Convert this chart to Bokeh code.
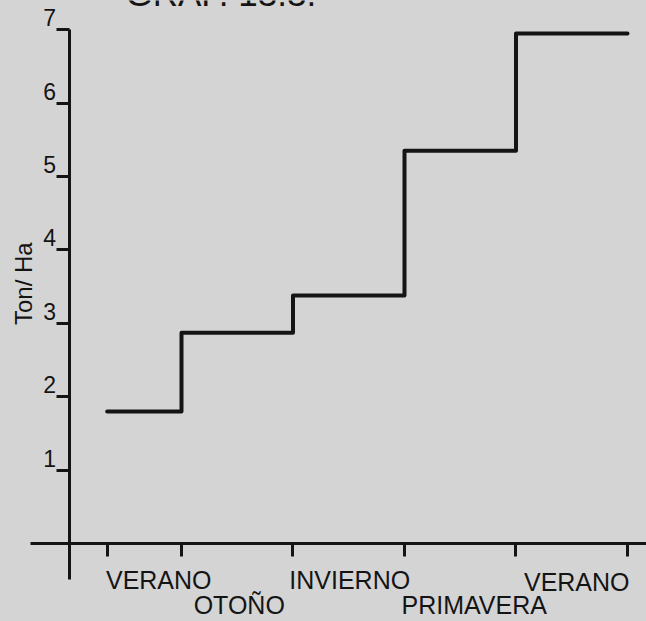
from bokeh.plotting import figure
from bokeh.models import Label, FixedTicker, GlobalInlineStyleSheet, ColumnDataSource
from bokeh.core.properties import value
from bokeh.embed import file_html
from bokeh.resources import INLINE

# ---- data ----
title_text = "GRAF. 13.3."
y_label = "Ton/ Ha"
seasons = ["VERANO", "OTOÑO", "INVIERNO", "PRIMAVERA", "VERANO"]
step_edges = [1 / 3, 1, 2, 3, 4, 5]          # season boundaries on x
yields = [1.80, 2.87, 3.38, 5.35, 6.95]      # Ton/Ha held during each period
y_ticks = [1, 2, 3, 4, 5, 6, 7]
x_ticks = [1 / 3, 1, 2, 3, 4, 5]

# ---- style / layout ----
W, H = 646, 621
BG = "#d4d4d4"
INK = "#141414"
FONT = "Liberation Sans"

p = figure(width=W, height=H, output_backend="svg", toolbar_location=None,
           x_range=(-0.6233, 5.1704), y_range=(-1.0627, 7.398),
           min_border=0, min_border_left=0, min_border_right=0,
           min_border_top=0, min_border_bottom=0)
p.stylesheets = [GlobalInlineStyleSheet(
    css=f"html, body {{ margin: 0; padding: 0; background: {BG}; overflow: hidden; }}")]
p.background_fill_color = BG
p.border_fill_color = BG
p.outline_line_color = None
p.grid.visible = False

# axes crossing at the origin
xa = p.xaxis[0]
ya = p.yaxis[0]
for ax in (xa, ya):
    ax.fixed_location = 0
    ax.axis_line_width = 3
    ax.axis_line_color = INK
    ax.major_tick_line_width = 3
    ax.major_tick_line_color = INK
    ax.major_tick_in = 0
    ax.minor_tick_in = 0
    ax.minor_tick_out = 0
    ax.major_label_text_font_size = "0px"
    ax.major_label_text_color = None
xa.ticker = FixedTicker(ticks=x_ticks)
xa.major_tick_out = 13
xa.bounds = (-0.35, 5.1704)
ya.ticker = FixedTicker(ticks=y_ticks)
ya.major_tick_out = 13
ya.bounds = (-0.485, 7)

# step line
p.step(x=step_edges, y=yields + [yields[-1]], mode="after",
       line_width=4, line_color=INK, line_join="round", line_cap="round")

# y tick labels
ysrc = ColumnDataSource(dict(x=[0] * len(y_ticks), y=y_ticks,
                             t=[str(v) for v in y_ticks]))
p.text(x="x", y="y", text="t", source=ysrc, x_offset=-14, y_offset=-12,
       text_align="right", text_baseline="alphabetic",
       text_font=value(FONT), text_font_size="23px", text_color=INK)

# season labels (two staggered rows)
ssrc = ColumnDataSource(dict(x=[i + 0.5 for i in range(len(seasons))],
                             y=[0] * len(seasons), t=seasons,
                             dx=[33, 2, 1, 14, 5], dy=[37, 62, 37, 62, 39]))
p.text(x="x", y="y", text="t", source=ssrc, x_offset="dx", y_offset="dy",
       text_align="center", text_baseline="alphabetic",
       text_font=value(FONT), text_font_size="25px", text_color=INK)

# axis title
p.add_layout(Label(x=-0.4215, y=3.54, text=y_label, angle=1.5708,
                   text_align="center", text_baseline="middle",
                   text_font=FONT, text_font_size="24px", text_color=INK))
# figure title (cut by top of page, as in the scan)
p.add_layout(Label(x=0.498, y=7.50, text=title_text,
                   text_align="left", text_baseline="alphabetic",
                   text_font=FONT, text_font_size="35px", text_color=INK))

open("out.html", "w").write(file_html(p, INLINE))
